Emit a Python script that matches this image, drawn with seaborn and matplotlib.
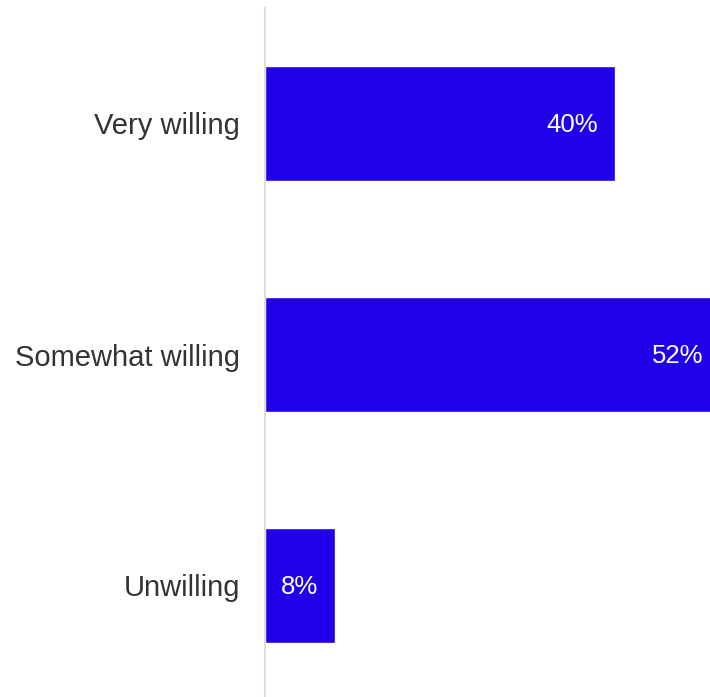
import matplotlib
matplotlib.use("Agg")
import matplotlib.pyplot as plt
import seaborn as sns
import pandas as pd

categories = ["Very willing", "Somewhat willing", "Unwilling"]
values = [40, 52, 8]
value_labels = ["40%", "52%", "8%"]

sns.set_theme(style="white")
plt.rcParams['font.family'] = ['Liberation Sans', 'DejaVu Sans']

df = pd.DataFrame({"category": categories, "value": values})

fig = plt.figure(figsize=(7.10, 6.97), dpi=100)
ax = fig.add_axes([265/710, -4/697, 1 - 265/710, 693/697])

sns.barplot(data=df, x="value", y="category", orient="h", color="#1f00e8",
            saturation=1, width=0.5, ax=ax)

ax.set_xlim(0, 50.86)
ax.set_ylim(2.5, -0.5)
for p, lab in zip(ax.patches, value_labels):
    w = p.get_width()
    yc = p.get_y() + p.get_height() / 2
    ax.annotate(lab, (w, yc), xytext=(-12, -1), textcoords="offset points",
                ha="right", va="center", color="white", fontsize=18.5,
                annotation_clip=False)

ax.set_xlabel("")
ax.set_ylabel("")
ax.set_xticks([])
ax.tick_params(axis="y", length=0, pad=18, labelsize=21, labelcolor="#333333")
for s in ["top", "right", "bottom"]:
    ax.spines[s].set_visible(False)
ax.spines["left"].set_color("#dddddd")
ax.spines["left"].set_linewidth(1.5)

fig.savefig("out.png", dpi=100)
